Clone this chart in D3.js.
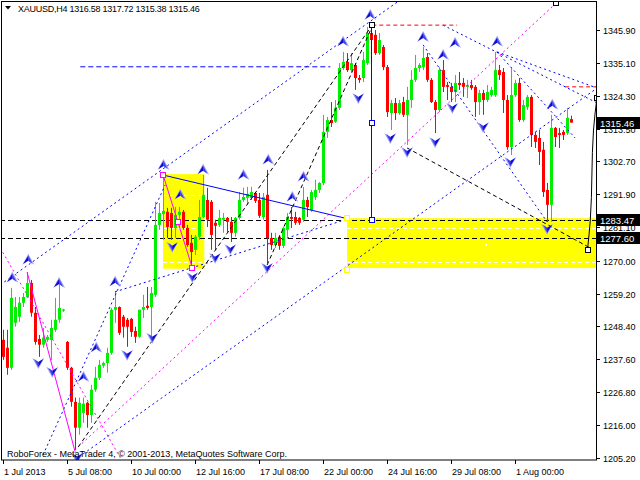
<!DOCTYPE html>
<html><head><meta charset="utf-8">
<script src="https://cdn.jsdelivr.net/npm/d3@7"></script>
<style>body{margin:0;background:#fff}svg{display:block}text{font-family:"Liberation Sans",Arial,sans-serif}</style>
</head><body><svg id="c" width="640" height="480"></svg>
<script>
// ---- data (XAUUSD H4) ----
const opens=[1244.0,1241.4,1234.8,1249.6,1251.6,1256.2,1258.1,1262.7,1252.9,1244.3,1242.4,1244.0,1244.0,1247.3,1250.6,1253.6,1243.3,1234.8,1223.6,1215.1,1220.0,1223.3,1219.3,1227.6,1231.5,1235.5,1236.4,1239.7,1253.9,1254.8,1251.6,1250.6,1250.9,1246.9,1245.0,1253.9,1255.2,1254.8,1258.8,1281.8,1285.4,1286.1,1285.7,1280.8,1285.1,1286.1,1280.8,1275.9,1273.6,1277.9,1284.4,1290.0,1289.4,1282.5,1281.8,1283.5,1284.1,1282.8,1279.2,1284.1,1290.0,1290.7,1290.7,1292.3,1290.0,1284.4,1291.7,1277.5,1275.2,1277.9,1274.9,1280.2,1284.4,1284.4,1284.1,1283.5,1290.0,1286.7,1291.0,1293.3,1295.6,1312.4,1316.3,1315.7,1320.3,1333.4,1335.4,1332.7,1334.4,1330.1,1330.1,1335.0,1344.9,1344.3,1338.3,1340.3,1333.7,1318.6,1321.9,1318.6,1322.2,1318.0,1322.9,1329.5,1333.4,1333.7,1337.0,1329.5,1322.2,1319.6,1332.7,1327.8,1327.2,1325.5,1328.5,1328.5,1327.2,1327.8,1327.2,1322.2,1325.2,1322.9,1324.5,1324.5,1332.7,1332.1,1322.9,1307.4,1324.5,1328.5,1316.3,1320.6,1323.9,1311.4,1310.4,1306.5,1293.3,1288.4,1313.7,1312.0,1312.4,1312.0,1316.58];
const highs=[1247.3,1247.3,1261.1,1258.1,1258.1,1259.4,1266.3,1263.7,1254.8,1245.6,1247.9,1245.6,1250.6,1257.8,1263.7,1254.2,1243.6,1235.1,1225.0,1225.0,1225.0,1223.6,1229.2,1235.1,1237.4,1236.8,1241.4,1254.5,1259.8,1255.0,1252.2,1251.2,1251.2,1248.3,1253.9,1258.8,1261.4,1261.4,1289.4,1289.0,1298.2,1287.4,1287.4,1287.7,1287.7,1286.7,1281.8,1278.5,1278.5,1290.0,1298.2,1294.0,1290.0,1283.5,1286.7,1285.7,1284.4,1284.4,1284.4,1292.6,1294.0,1294.3,1294.3,1292.6,1292.3,1292.3,1299.9,1279.2,1279.2,1278.5,1281.1,1285.7,1287.7,1286.1,1284.4,1294.3,1291.0,1293.3,1296.6,1295.9,1318.0,1317.3,1322.2,1322.9,1335.0,1338.7,1338.3,1338.3,1335.0,1331.1,1338.7,1346.9,1348.2,1345.9,1344.9,1341.0,1334.4,1322.9,1323.5,1322.9,1323.9,1327.2,1332.7,1337.7,1335.0,1340.3,1338.3,1330.1,1322.9,1333.7,1336.0,1328.8,1328.5,1331.1,1332.1,1330.1,1329.5,1329.5,1327.8,1326.2,1326.2,1327.8,1327.2,1338.7,1334.4,1333.4,1324.5,1333.4,1329.5,1330.1,1322.9,1324.5,1324.5,1312.4,1313.0,1309.1,1295.6,1318.0,1314.0,1313.7,1313.0,1320.3,1317.72];
const lows=[1237.4,1232.5,1234.1,1248.3,1249.9,1254.8,1257.8,1251.6,1242.4,1238.4,1241.4,1243.3,1237.4,1246.6,1249.6,1253.2,1234.1,1222.0,1207.8,1212.8,1216.7,1215.1,1216.7,1226.9,1230.8,1234.8,1233.2,1239.1,1249.6,1245.6,1244.7,1241.7,1245.0,1243.0,1244.7,1251.2,1253.9,1245.0,1258.1,1280.2,1276.9,1277.5,1276.9,1277.5,1281.1,1280.2,1274.6,1267.7,1271.9,1276.9,1284.1,1281.1,1273.6,1273.6,1281.1,1279.2,1279.5,1276.2,1277.9,1283.5,1289.4,1288.4,1290.0,1289.0,1284.1,1283.5,1269.3,1273.6,1274.2,1273.6,1274.2,1277.9,1280.8,1281.8,1281.8,1282.8,1284.4,1286.1,1290.0,1292.3,1294.9,1310.4,1314.0,1315.3,1319.6,1332.7,1332.1,1332.1,1326.2,1328.5,1328.8,1334.4,1338.7,1337.7,1337.7,1332.7,1317.3,1313.0,1316.3,1318.0,1317.3,1308.1,1320.3,1328.8,1332.1,1332.7,1328.8,1321.9,1312.0,1318.9,1325.5,1322.9,1322.2,1322.2,1326.2,1323.9,1323.5,1326.2,1317.3,1318.0,1318.0,1322.2,1323.9,1323.9,1329.5,1318.6,1306.5,1304.8,1323.9,1315.7,1315.7,1319.6,1307.4,1307.1,1301.5,1291.0,1282.8,1282.8,1307.4,1307.1,1309.7,1311.4,1315.38];
const closes=[1238.4,1234.8,1257.8,1254.8,1256.2,1258.1,1262.7,1252.9,1243.3,1242.4,1244.7,1245.0,1247.9,1250.6,1254.5,1254.0,1234.8,1223.6,1215.1,1223.3,1223.0,1219.3,1227.6,1231.5,1235.8,1236.4,1239.7,1253.9,1254.8,1246.3,1248.3,1248.3,1246.6,1245.0,1253.9,1254.8,1254.5,1259.4,1281.8,1285.7,1286.4,1281.1,1280.8,1285.1,1286.1,1280.8,1275.2,1272.9,1277.9,1284.4,1291.7,1283.5,1278.5,1281.5,1284.1,1284.1,1282.8,1279.2,1284.1,1290.0,1291.0,1292.0,1292.6,1289.7,1284.8,1291.0,1277.5,1275.2,1277.5,1274.9,1280.8,1284.4,1283.8,1282.5,1282.5,1290.0,1287.7,1292.6,1293.3,1295.6,1312.4,1316.3,1315.3,1320.3,1333.4,1335.4,1332.7,1335.0,1330.1,1329.5,1336.0,1344.9,1342.6,1338.3,1342.6,1333.7,1318.9,1321.9,1318.6,1321.9,1318.0,1322.9,1329.5,1333.4,1334.4,1336.7,1329.5,1322.2,1319.6,1332.7,1327.2,1327.2,1325.5,1328.5,1327.8,1327.2,1327.8,1326.8,1322.2,1325.2,1322.9,1325.5,1326.2,1332.7,1331.1,1322.9,1307.4,1324.5,1328.5,1316.3,1321.2,1323.9,1311.4,1309.1,1305.8,1292.6,1288.4,1313.7,1310.7,1311.4,1311.4,1317.0,1315.46];

const priceTicks=[1345.90,1335.10,1324.30,1313.50,1302.70,1291.90,1281.10,1270.00,1259.20,1248.40,1237.60,1226.80,1216.00,1205.20];
const timeTickBars=[0,16,32,48,64,80,96,112,128];
const timeTickLabels=["1 Jul 2013","5 Jul 08:00","10 Jul 00:00","12 Jul 16:00","17 Jul 08:00","22 Jul 00:00","24 Jul 16:00","29 Jul 08:00","1 Aug 00:00"];
const hLevels=[1283.47,1277.60];
const lastPrice=1315.46;

// analysis objects: [bar1, price1, bar2, price2]
const zoneBars=[[39.9,50.2],[85.9,152]];
const zonePrices=[[1267.4,1298.5],[1267.6,1284.0]];
const zoneLevels=[[1291.7,1280.7,1269.7],[1280.7,1269.7]];
const blackDashLines=[[18.7,1208.8,91.7,1346.6],[65.9,1268.6,92.0,1346.6],[100.9,1307.1,146.7,1274.2]];
const blueDotLines=[[-0.8,1262.1,99.2,1355.8],[9.9,1206.2,40.4,1294.9],[17.9,1204.6,148.4,1326.8],[27.9,1259.8,86.2,1283.8],[109.9,1347.5,148.4,1321.9],[123.4,1338.7,148.4,1326.8],[123.4,1338.7,142.9,1310.4],[104.9,1341.0,135.9,1282.8]];
const blueDashLines=[[19.2,1333.8,81.7,1333.8]];
const blueSolidLines=[[39.9,1298.2,86.4,1283.7],[92.0,1347.5,92.0,1283.5]];
const magentaSolidLines=[[39.9,1298.2,47.2,1267.7],[5.9,1266.3,17.9,1207.2]];
const magentaDotLines=[[-0.8,1274.2,29.2,1205.2],[18.7,1208.8,138.2,1354.8]];
const redDashLines=[[92.2,1347.5,113.4,1347.5],[140.4,1327.2,148.4,1327.2]];
const forecastBars=[146.0,146.7,147.5,148.35];
const forecastPrices=[1273.6,1283.4,1313.0,1323.5];
const magentaSquares=[[39.9,1298.2],[47.2,1267.7],[43.7,1282.8]];
const blueSquares=[[92,1315.3],[92,1283.5]];
const blackSquares=[[92,1347.5],[138.2,1354.8],[146.0,1273.6],[148.35,1323.5]];
const yellowSquares=[[85.9,1284.1],[85.9,1267.0]];
const upArrows=[[2.2,1264.4],[6.2,1270.3],[13.9,1262.7],[20.0,1231.8],[23.2,1241.4],[27.9,1263.1],[40.0,1301.5],[44.2,1291.7],[49.9,1299.9],[60.0,1298.2],[66.2,1303.2],[72.2,1291.0],[75.0,1297.6],[84.9,1342.0],[91.7,1350.8],[104.9,1343.6],[109.9,1337.7],[112.9,1341.6],[123.4,1342.0],[137.2,1321.3]];
const downArrows=[[8.7,1236.4],[12.2,1233.5],[18.4,1205.2],[30.9,1239.1],[37.2,1244.7],[42.2,1274.6],[47.2,1264.7],[52.9,1271.0],[56.7,1273.9],[65.9,1267.7],[88.7,1323.5],[96.7,1310.4],[100.9,1305.8],[107.9,1309.1],[112.2,1320.3],[119.9,1314.0],[126.7,1302.5],[135.9,1280.5]];

// ---- drawing ----
const svg=d3.select('#c');
const x=d3.scaleLinear().domain([0,148]).range([3.5,3.5+4*148]);
const y=d3.scaleLinear().domain([1205.2,1345.9]).range([457.8,30]);
svg.append('rect').attr('width',640).attr('height',480).attr('fill','#fff');
svg.append('defs').append('clipPath').attr('id','cp').append('rect').attr('x',2).attr('y',2).attr('width',594.5).attr('height',458);
const g=svg.append('g').attr('clip-path','url(#cp)');

// zones
zoneBars.forEach((b,i)=>{
  const p=zonePrices[i];
  g.append('rect').attr('x',x(b[0])).attr('width',x(b[1])-x(b[0])).attr('y',y(p[1])).attr('height',y(p[0])-y(p[1])).attr('fill','#ffff00');
  zoneLevels[i].forEach(l=>g.append('line').attr('x1',x(b[0])).attr('x2',x(b[1])).attr('y1',Math.round(y(l))+0.5).attr('y2',Math.round(y(l))+0.5).attr('stroke','#fff').attr('stroke-dasharray','4,3'));
});
g.append('rect').attr('x',Math.round(x(120.4))).attr('y',Math.round(y(1275.5))).attr('width',2).attr('height',2).attr('fill','#fff');

// horizontal levels
hLevels.forEach(l=>g.append('line').attr('x1',0).attr('x2',597).attr('y1',Math.round(y(l))+0.5).attr('y2',Math.round(y(l))+0.5).attr('stroke','#000').attr('stroke-dasharray','5,3'));

// candles
const idx=d3.range(opens.length);
const col=i=>closes[i]>=opens[i]?'#00ee00':'#ff0000';
g.selectAll('.wick').data(idx).join('line').attr('x1',i=>x(i)).attr('x2',i=>x(i)).attr('y1',i=>y(highs[i])).attr('y2',i=>y(lows[i])).attr('stroke',col);
g.selectAll('.body').data(idx).join('rect').attr('x',i=>x(i)-1.5).attr('width',3)
 .attr('y',i=>y(Math.max(opens[i],closes[i]))).attr('height',i=>Math.max(1,Math.abs(y(opens[i])-y(closes[i])))).attr('fill',col);

// lines
function drawLines(arr,color,dash){
  g.selectAll(null).data(arr).join('line').attr('x1',d=>x(d[0])).attr('y1',d=>y(d[1])).attr('x2',d=>x(d[2])).attr('y2',d=>y(d[3]))
   .attr('stroke',color).attr('stroke-width',1).attr('stroke-dasharray',dash);
}
drawLines(blueDotLines,'#0000ff','2,3');
drawLines(magentaDotLines,'#ff00ff','2,3');
drawLines(blackDashLines,'#000','4,3');
drawLines(blueDashLines,'#0000ff','5,3');
drawLines(redDashLines,'#ff0000','4,3');
drawLines(blueSolidLines,'#0000ff',null);
drawLines(magentaSolidLines,'#ff00ff',null);
g.append('path').attr('d',d3.line().x(d=>x(d[0])).y(d=>y(d[1])).curve(d3.curveMonotoneY)(forecastBars.map((b,i)=>[b,forecastPrices[i]])))
 .attr('fill','none').attr('stroke','#000');

// squares
function squares(arr,color){
  g.selectAll(null).data(arr).join('rect').attr('x',d=>Math.round(x(d[0]))-2.5).attr('y',d=>Math.round(y(d[1]))-2.5).attr('width',5).attr('height',5)
   .attr('fill','#fff').attr('stroke',color);
}
squares(magentaSquares,'#ff00ff');squares(blueSquares,'#0000ff');squares(blackSquares,'#000');squares(yellowSquares,'#ffff00');

// fractal arrows
const ua=g.selectAll(null).data(upArrows).join('g').attr('transform',d=>`translate(${x(d[0])},${y(d[1])})`);
ua.append('path').attr('d','M0,-6L6,5L0,1L-6,5Z').attr('fill','#9a9af5');
ua.append('path').attr('d','M0,-4L0,1L-5,4Z').attr('fill','#0a0ad0');
ua.append('path').attr('d','M0,-4L4,4L0,1Z').attr('fill','#3c3cf0');
const da=g.selectAll(null).data(downArrows).join('g').attr('transform',d=>`translate(${x(d[0])},${y(d[1])})`);
da.append('path').attr('d','M0,6L-6,-5L0,-1L6,-5Z').attr('fill','#9a9af5');
da.append('path').attr('d','M0,4L-4,-4L0,-1Z').attr('fill','#3c3cf0');
da.append('path').attr('d','M0,4L0,-1L5,-4Z').attr('fill','#0a0ad0');

// frame
svg.append('rect').attr('x',1.5).attr('y',1.5).attr('width',595).attr('height',458.5).attr('fill','none').attr('stroke','#000');

// price axis
priceTicks.forEach(p=>{
  const yy=Math.round(y(p))+0.5;
  svg.append('line').attr('x1',597).attr('x2',600).attr('y1',yy).attr('y2',yy).attr('stroke','#000');
  svg.append('text').attr('x',603).attr('y',yy+3.5).attr('font-size',9).attr('fill','#000').text(p.toFixed(2));
});
[...hLevels,lastPrice].forEach(p=>{
  const yy=Math.round(y(p));
  svg.append('rect').attr('x',597).attr('y',yy-6).attr('width',43).attr('height',12).attr('fill','#000');
  svg.append('text').attr('x',600).attr('y',yy+3.5).attr('font-size',9.5).attr('fill','#fff').text(p.toFixed(2));
});

// time axis
timeTickBars.forEach((b,i)=>{
  const xx=Math.floor(x(b))+0.5;
  svg.append('line').attr('x1',xx).attr('x2',xx).attr('y1',460).attr('y2',464).attr('stroke','#000');
  svg.append('text').attr('x',xx+0.5).attr('y',475).attr('font-size',9).attr('fill','#000').text(timeTickLabels[i]);
});

// title & copyright
svg.append('path').attr('d','M5,6L11,6L8,9.5Z').attr('fill','#000');
svg.append('text').attr('x',18).attr('y',12).attr('font-size',9).attr('letter-spacing',-0.25).attr('fill','#000').text('XAUUSD,H4  1316.58 1317.72 1315.38 1315.46');
svg.append('text').attr('x',7).attr('y',457).attr('font-size',9).attr('fill','#000').text('RoboForex - MetaTrader 4, © 2001-2013, MetaQuotes Software Corp.');
</script></body></html>
